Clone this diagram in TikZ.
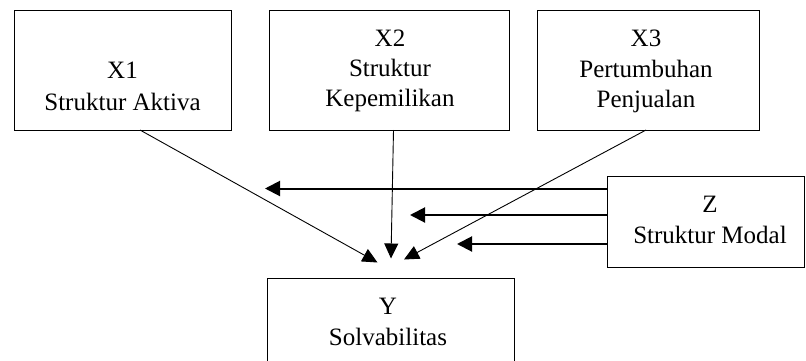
\documentclass[tikz,border=0pt]{standalone}
\usepackage{fontspec}
\setmainfont{Liberation Serif}
\usetikzlibrary{arrows.meta}
\tikzset{
  box/.style={draw=black, line width=1pt, inner sep=0pt, outer sep=0pt, fill=none},
  lbl/.style={anchor=base, inner sep=0pt, font=\fontsize{25}{30}\selectfont},
  thinarrow/.style={draw=black, line width=0.9pt, -{Triangle[length=15pt,width=14pt]}},
  thickarrow/.style={draw=black, line width=2pt, -{Triangle[length=15pt,width=15pt]}},
}
\begin{document}
\begin{tikzpicture}[x=1pt,y=-1pt]
\useasboundingbox (0,0) rectangle (806,360);
\clip (0,0) rectangle (806,360);
% boxes
\node[box, minimum width=217pt, minimum height=120pt] (x1) at (122.5,70) {};
\node[box, minimum width=240pt, minimum height=120pt] (x2) at (389,70) {};
\node[box, minimum width=222pt, minimum height=120pt] (x3) at (648,70) {};
\node[box, minimum width=197pt, minimum height=91pt] (z) at (705.5,221.5) {};
\node[box, minimum width=247pt, minimum height=120pt] (y) at (390.5,338) {};
% texts
\node[lbl] (x1a) at (122.5,78) {X1};
\node[lbl] (x1b) at (122.5,110) {Struktur Aktiva};
\node[lbl] (x2a) at (390,46) {X2};
\node[lbl] (x2b) at (390,76) {Struktur};
\node[lbl] (x2c) at (390,106) {Kepemilikan};
\node[lbl] (x3a) at (646,46) {X3};
\node[lbl] (x3b) at (646,77) {Pertumbuhan};
\node[lbl] (x3c) at (646,107) {Penjualan};
\node[lbl] (za) at (710,212) {Z};
\node[lbl] (zb) at (710,243) {Struktur Modal};
\node[lbl] (ya) at (388,314) {Y};
\node[lbl] (yb) at (388,345) {Solvabilitas};
% arrow tips
\coordinate (t1) at (377.5,262.5);
\coordinate (t2) at (391,258.5);
\coordinate (t3) at (404,259.5);
\coordinate (t4) at (265,188.5);
\coordinate (t5) at (410,215);
\coordinate (t6) at (457,244);
% connectors
\draw[thinarrow] ([xshift=17.5pt]x1.south) -- (t1);
\draw[thinarrow] ([xshift=4.5pt]x2.south) -- (t2);
\draw[thinarrow] ([xshift=-2pt]x3.south) -- (t3);
\draw[thickarrow] ([yshift=33pt]z.west) -- (t4);
\draw[thickarrow] ([yshift=6.5pt]z.west) -- (t5);
\draw[thickarrow] ([yshift=-22.5pt]z.west) -- (t6);
\end{tikzpicture}
\end{document}
